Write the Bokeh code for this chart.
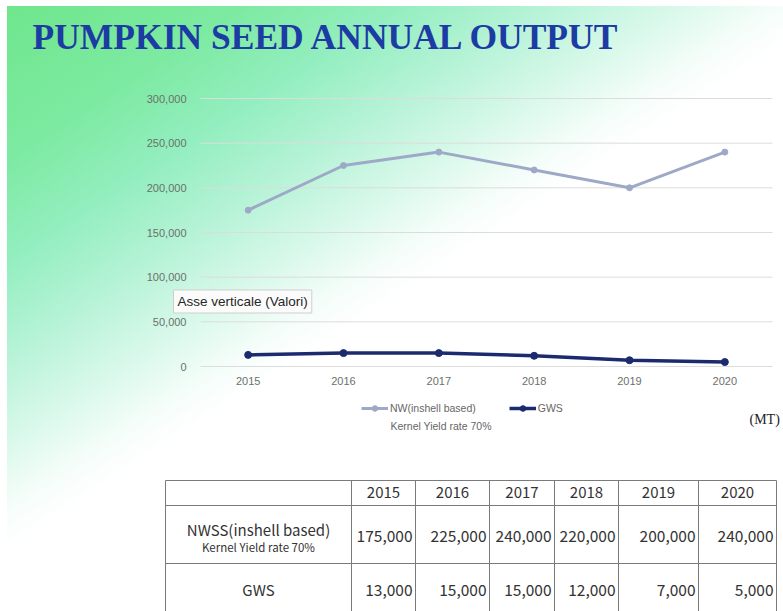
from bokeh.plotting import figure
from bokeh.models import (Range1d, FixedTicker, NumeralTickFormatter, Label,
                          Legend, LegendItem, ColumnDataSource, LinearAxis)
from bokeh.embed import file_html
from bokeh.resources import INLINE
from bokeh.core.properties import value

# ---------------- data ----------------
years = [2015, 2016, 2017, 2018, 2019, 2020]
nw_values = [175000, 225000, 240000, 220000, 200000, 240000]
gws_values = [13000, 15000, 15000, 12000, 7000, 5000]
y_ticks = [0, 50000, 100000, 150000, 200000, 250000, 300000]

title_text = "PUMPKIN SEED ANNUAL OUTPUT"
nw_legend = "NW(inshell based)"
nw_legend_sub = "Kernel Yield rate 70%"
gws_legend = "GWS"
unit_text = "(MT)"
tooltip_text = "Asse verticale (Valori)"
table_nw_label = "NWSS(inshell based)"
table_nw_sub = "Kernel Yield rate 70%"
table_gws_label = "GWS"

# ---------------- layout / styles ----------------
W, H = 783, 611
PLOT_L, PLOT_R, PLOT_T, PLOT_B = 200, 772, 98, 366   # chart area (canvas px)
NW_COLOR = "#9ea9c7"
GWS_COLOR = "#1c2b6e"
TICK_COLOR = "#6b716b"
GRADIENT = ("linear-gradient(147deg, #6fe68c 0%, #7deaa2 14%, #93eebf 23%, "
            "#b8f3d8 32%, #dcf9ec 40%, #f4fdf9 45%, #ffffff 49%) "
            "7px 6px / 776px 605px no-repeat, #ffffff")

p = figure(width=W, height=H, x_range=Range1d(0, W), y_range=Range1d(H, 0),
           output_backend="svg", toolbar_location=None, min_border=0,
           x_axis_location=None, y_axis_location=None)
p.border_fill_color = None
p.background_fill_color = None
p.outline_line_color = None
p.grid.visible = False
p.styles = {"background": GRADIENT}

# chart scales: categories 2014.5..2020.5 over PLOT_L..PLOT_R, values 0..300000 over PLOT_B..PLOT_T
x0v, x1v = years[0] - 0.5, years[-1] + 0.5
px_per_x = (PLOT_R - PLOT_L) / (x1v - x0v)
y0v, y1v = y_ticks[0], y_ticks[-1]
val_per_px = (y1v - y0v) / (PLOT_B - PLOT_T)
p.extra_x_ranges = {"yr": Range1d(x0v - PLOT_L / px_per_x, x1v + (W - PLOT_R) / px_per_x)}
p.extra_y_ranges = {"val": Range1d(y0v - (H - PLOT_B) * val_per_px, y1v + PLOT_T * val_per_px)}
XR = dict(x_range_name="yr", y_range_name="val")

# gridlines
p.segment(x0=[x0v] * len(y_ticks), x1=[x1v] * len(y_ticks), y0=y_ticks, y1=y_ticks,
          line_color="#dcdcdc", line_width=1, **XR)

# axes fixed at the chart edges
xaxis = LinearAxis(x_range_name="yr", y_range_name="val", fixed_location=y0v,
                   ticker=FixedTicker(ticks=years), major_label_standoff=10)
yaxis = LinearAxis(x_range_name="yr", y_range_name="val", fixed_location=x0v,
                   ticker=FixedTicker(ticks=y_ticks),
                   formatter=NumeralTickFormatter(format="0,0"), major_label_standoff=14)
for ax in (xaxis, yaxis):
    ax.axis_line_color = None
    ax.major_tick_line_color = None
    ax.minor_tick_line_color = None
    ax.major_tick_in = 0
    ax.major_tick_out = 0
    ax.minor_tick_in = 0
    ax.minor_tick_out = 0
    ax.major_label_text_font = "Liberation Sans"
    ax.major_label_text_font_size = "11px"
    ax.major_label_text_color = TICK_COLOR
p.add_layout(xaxis, "below")
p.add_layout(yaxis, "left")

src = ColumnDataSource(dict(year=years, nw=nw_values, gws=gws_values))
nw_line = p.line("year", "nw", source=src, line_color=NW_COLOR, line_width=3, **XR)
nw_pts = p.scatter("year", "nw", source=src, size=6, color=NW_COLOR, **XR)
gws_line = p.line("year", "gws", source=src, line_color=GWS_COLOR, line_width=3.5, **XR)
gws_pts = p.scatter("year", "gws", source=src, size=7, color=GWS_COLOR, **XR)

legend = Legend(items=[LegendItem(label=nw_legend, renderers=[nw_line, nw_pts]),
                       LegendItem(label=gws_legend, renderers=[gws_line, gws_pts])],
                orientation="horizontal", location=(361, H - 415),
                padding=0, margin=0, spacing=33,
                glyph_width=27, glyph_height=14, label_height=14,
                label_standoff=2, border_line_color=None,
                background_fill_color=None,
                label_text_font="Liberation Sans", label_text_font_size="10.5px",
                label_text_color="#666666")
p.add_layout(legend)

p.add_layout(Label(x=390, y=425, text=nw_legend_sub, text_font="Liberation Sans",
                   text_font_size="10.5px", text_color="#666666",
                   text_baseline="middle"))

p.add_layout(Label(x=32, y=36, text=title_text, text_font="Liberation Serif",
                   text_font_style="bold", text_font_size="35.5px",
                   text_color="#1c3ba3", text_baseline="alphabetic"))

p.add_layout(Label(x=749, y=419, text=unit_text, text_font="Liberation Serif",
                   text_font_size="14px", text_color="#222222",
                   text_baseline="middle"))

p.add_layout(Label(x=173, y=301, text=tooltip_text, text_font="Liberation Sans",
                   text_font_size="13.5px", text_color="#262626",
                   text_baseline="middle", padding=4,
                   background_fill_color="#fbfbfb",
                   border_line_color="#cfcfcf"))

# ---------------- table ----------------
col_edges = [165, 351, 415, 489, 554, 618, 698, 776]
row_edges = [480, 505, 563, 615]
LINE = "#7a7a7a"
p.segment(x0=[col_edges[0]] * 3, x1=[col_edges[-1]] * 3, y0=row_edges[:3], y1=row_edges[:3],
          line_color=LINE, line_width=1)
p.segment(x0=col_edges, x1=col_edges, y0=[row_edges[0]] * len(col_edges),
          y1=[row_edges[-1]] * len(col_edges), line_color=LINE, line_width=1)

FONT = value("Noto Sans CJK JP")
TXT = "#333333"
centers = [(col_edges[i + 1] + col_edges[i + 2]) / 2 for i in range(len(years))]
rights = [col_edges[i + 2] - 3 for i in range(len(years))]

p.text(x=centers, y=[492] * len(years), text=[str(y) for y in years],
       text_font=FONT, text_font_size="15px", text_color=TXT,
       text_align="center", text_baseline="middle")
p.text(x=rights, y=[535] * len(years), text=[f"{v:,}" for v in nw_values],
       text_font=FONT, text_font_size="15.5px", text_color=TXT,
       text_align="right", text_baseline="middle")
p.text(x=rights, y=[589] * len(years), text=[f"{v:,}" for v in gws_values],
       text_font=FONT, text_font_size="15.5px", text_color=TXT,
       text_align="right", text_baseline="middle")
c1 = (col_edges[0] + col_edges[1]) / 2
p.text(x=[c1], y=[529], text=[table_nw_label], text_font=FONT, text_font_size="15px",
       text_color=TXT, text_align="center", text_baseline="middle")
p.text(x=[c1], y=[546], text=[table_nw_sub], text_font=FONT, text_font_size="11.5px",
       text_color=TXT, text_align="center", text_baseline="middle")
p.text(x=[c1], y=[589], text=[table_gws_label], text_font=FONT, text_font_size="15px",
       text_color=TXT, text_align="center", text_baseline="middle")

open("out.html", "w").write(file_html(p, INLINE))
